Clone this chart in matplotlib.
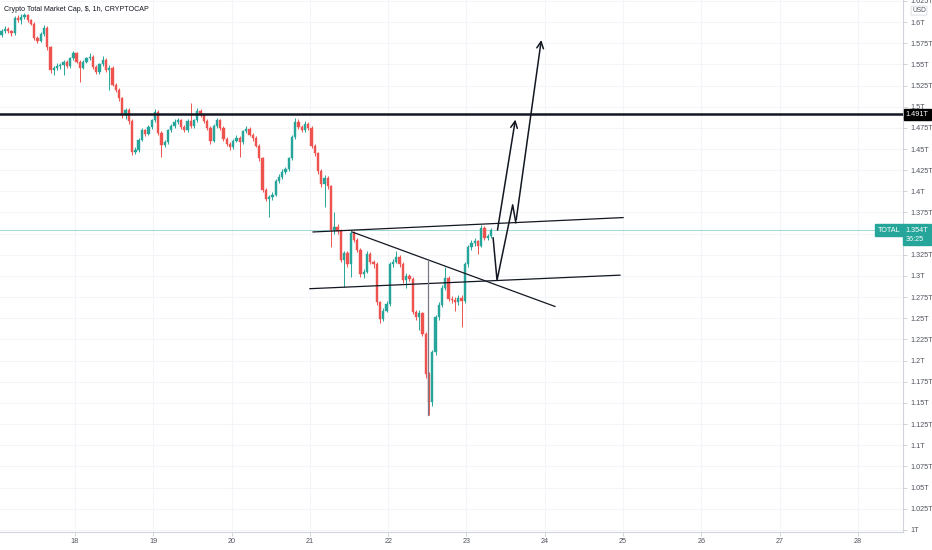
import numpy as np
import matplotlib.pyplot as plt
from matplotlib.patches import Rectangle

plt.rcParams['font.family'] = ['Liberation Sans', 'DejaVu Sans']

# hourly candles, Crypto Total Market Cap (in trillions USD)
first_open = 1.585
closes = [
    1.589, 1.592, 1.589, 1.587, 1.605, 1.602, 1.606, 1.608, 1.602, 1.598,
    1.581, 1.578, 1.586, 1.593, 1.570, 1.543, 1.546, 1.548, 1.549, 1.553,
    1.548, 1.557, 1.563, 1.553, 1.546, 1.553, 1.557, 1.559, 1.547, 1.541,
    1.550, 1.555, 1.543, 1.546, 1.526, 1.520, 1.510, 1.490, 1.496, 1.483,
    1.447, 1.449, 1.461, 1.472, 1.468, 1.476, 1.484, 1.494, 1.469, 1.455,
    1.458, 1.472, 1.477, 1.482, 1.484, 1.476, 1.472, 1.483, 1.477, 1.484,
    1.495, 1.490, 1.483, 1.475, 1.460, 1.477, 1.484, 1.475, 1.462, 1.456,
    1.452, 1.460, 1.463, 1.458, 1.471, 1.474, 1.467, 1.463, 1.454, 1.439,
    1.402, 1.391, 1.393, 1.396, 1.412, 1.417, 1.423, 1.426, 1.439, 1.464,
    1.482, 1.476, 1.472, 1.480, 1.475, 1.454, 1.445, 1.424, 1.409, 1.416,
    1.406, 1.354, 1.358, 1.353, 1.319, 1.327, 1.314, 1.351, 1.343, 1.331,
    1.302, 1.305, 1.326, 1.317, 1.314, 1.269, 1.249, 1.259, 1.267, 1.314,
    1.317, 1.323, 1.314, 1.295, 1.300, 1.297, 1.258, 1.252, 1.256, 1.232,
    1.184, 1.151, 1.210, 1.251, 1.266, 1.286, 1.298, 1.273, 1.272, 1.269,
    1.274, 1.271, 1.314, 1.334, 1.339, 1.341, 1.336, 1.357, 1.345, 1.347,
    1.354,
]
highs = [
    1.592, 1.595, 1.594, 1.591, 1.607, 1.608, 1.609, 1.611, 1.610, 1.604,
    1.600, 1.583, 1.588, 1.596, 1.595, 1.572, 1.548, 1.551, 1.552, 1.555,
    1.555, 1.559, 1.566, 1.565, 1.555, 1.555, 1.559, 1.563, 1.561, 1.549,
    1.552, 1.560, 1.557, 1.549, 1.548, 1.528, 1.522, 1.512, 1.499, 1.498,
    1.485, 1.452, 1.463, 1.475, 1.474, 1.478, 1.486, 1.497, 1.496, 1.471,
    1.461, 1.474, 1.480, 1.485, 1.487, 1.486, 1.478, 1.485, 1.504, 1.486,
    1.498, 1.497, 1.492, 1.485, 1.477, 1.479, 1.487, 1.486, 1.477, 1.464,
    1.458, 1.462, 1.466, 1.465, 1.473, 1.477, 1.476, 1.469, 1.465, 1.456,
    1.441, 1.404, 1.396, 1.399, 1.414, 1.420, 1.426, 1.429, 1.441, 1.466,
    1.487, 1.486, 1.478, 1.483, 1.482, 1.477, 1.456, 1.447, 1.426, 1.419,
    1.418, 1.408, 1.376, 1.361, 1.355, 1.330, 1.329, 1.354, 1.353, 1.345,
    1.333, 1.308, 1.330, 1.328, 1.319, 1.316, 1.271, 1.262, 1.270, 1.317,
    1.320, 1.330, 1.325, 1.316, 1.303, 1.302, 1.299, 1.260, 1.260, 1.258,
    1.234, 1.187, 1.213, 1.254, 1.269, 1.289, 1.311, 1.300, 1.276, 1.275,
    1.277, 1.277, 1.317, 1.337, 1.342, 1.345, 1.343, 1.360, 1.359, 1.350,
    1.357,
]
lows = [
    1.582, 1.587, 1.587, 1.584, 1.585, 1.600, 1.598, 1.603, 1.600, 1.596,
    1.579, 1.575, 1.576, 1.584, 1.567, 1.540, 1.537, 1.543, 1.545, 1.538,
    1.546, 1.546, 1.555, 1.551, 1.529, 1.544, 1.551, 1.555, 1.545, 1.539,
    1.539, 1.548, 1.541, 1.520, 1.524, 1.517, 1.507, 1.487, 1.485, 1.480,
    1.443, 1.444, 1.447, 1.459, 1.465, 1.466, 1.474, 1.482, 1.466, 1.441,
    1.452, 1.456, 1.470, 1.475, 1.480, 1.474, 1.470, 1.470, 1.475, 1.475,
    1.482, 1.488, 1.481, 1.472, 1.456, 1.458, 1.475, 1.473, 1.459, 1.453,
    1.449, 1.450, 1.458, 1.441, 1.456, 1.469, 1.465, 1.460, 1.452, 1.436,
    1.399, 1.388, 1.370, 1.390, 1.394, 1.410, 1.414, 1.421, 1.424, 1.437,
    1.462, 1.474, 1.470, 1.470, 1.473, 1.451, 1.442, 1.421, 1.405, 1.382,
    1.403, 1.334, 1.350, 1.350, 1.316, 1.287, 1.311, 1.299, 1.340, 1.328,
    1.299, 1.298, 1.303, 1.314, 1.310, 1.266, 1.245, 1.247, 1.257, 1.265,
    1.311, 1.315, 1.311, 1.292, 1.286, 1.294, 1.255, 1.248, 1.236, 1.229,
    1.180, 1.136, 1.146, 1.207, 1.248, 1.263, 1.284, 1.270, 1.268, 1.259,
    1.266, 1.240, 1.268, 1.311, 1.331, 1.336, 1.326, 1.334, 1.342, 1.342,
    1.345,
]
opens = [first_open] + closes[:-1]

day_ticks = list(range(18, 29))
price_ticks = [1.0, 1.025, 1.05, 1.075, 1.1, 1.125, 1.15, 1.175, 1.2, 1.225,
               1.25, 1.275, 1.3, 1.325, 1.35, 1.375, 1.4, 1.425, 1.45, 1.475,
               1.5, 1.525, 1.55, 1.575, 1.6, 1.625]
resistance = 1.491
last_price = 1.354

# drawings (day, price)
upper_line = ([21.04, 25.0], [1.352, 1.369])
lower_line = ([21.0, 24.96], [1.285, 1.301])
down_line = ([21.54, 24.13], [1.352, 1.264])
measure_line = ([22.51, 22.51], [1.319, 1.136])
arrow_short = ([23.39, 23.63], [1.351, 1.488])
zigzag = ([23.34, 23.39, 23.59, 23.63, 23.96], [1.345, 1.295, 1.384, 1.363, 1.582])

UP = '#26a69a'
DOWN = '#ef5350'
INK = '#131722'
TXT = '#50535e'
FS = 5.2

fig = plt.figure(figsize=(9.32, 5.5), dpi=100)
ax = fig.add_axes([0, 18 / 550, 903 / 932, 532 / 550])

t = 17 + (np.arange(len(closes)) + 1.5) / 24
bw = 0.7 / 24
for x, o, h, l, c in zip(t, opens, highs, lows, closes):
    col = UP if c >= o else DOWN
    ax.vlines(x, l, h, color=col, lw=0.7, zorder=3)
    ax.add_patch(Rectangle((x - bw / 2, min(o, c)), bw, max(abs(c - o), 0.0008),
                           facecolor=col, edgecolor=col, lw=0.3, zorder=4))

ax.axhline(resistance, color=INK, lw=1.8, zorder=5)
ax.axhline(last_price, color=UP, lw=0.6, alpha=0.5, zorder=2)

for xs, ys in (upper_line, lower_line, down_line):
    ax.plot(xs, ys, color=INK, lw=0.9, zorder=5)
ax.plot(*measure_line, color='#787b86', lw=0.9, zorder=5)

ax.annotate('', xy=(arrow_short[0][1], arrow_short[1][1]),
            xytext=(arrow_short[0][0], arrow_short[1][0]),
            arrowprops=dict(arrowstyle='->', color=INK, lw=1.1, mutation_scale=12),
            zorder=6)
ax.plot(zigzag[0][:-1], zigzag[1][:-1], color=INK, lw=1.1, zorder=6)
ax.annotate('', xy=(zigzag[0][-1], zigzag[1][-1]),
            xytext=(zigzag[0][-2], zigzag[1][-2]),
            arrowprops=dict(arrowstyle='->', color=INK, lw=1.1, mutation_scale=12),
            zorder=6)

ax.set_xlim(17.042, 28.575)
ax.set_ylim(0.9976, 1.626)

ax.set_xticks(day_ticks)
ax.set_xticklabels([str(d) for d in day_ticks])
ax.set_yticks(price_ticks)
# the 1.35T label sits under the live price tag
ax.set_yticklabels(['' if p == 1.35 else ('%g' % p) + 'T' for p in price_ticks])
ax.yaxis.tick_right()
ax.tick_params(axis='y', length=3, width=0.6, color='#c9ccd3', labelsize=FS,
               labelcolor=TXT, pad=2)
ax.tick_params(axis='x', length=3, width=0.6, color='#c9ccd3', labelsize=FS,
               labelcolor=TXT, pad=1)
ax.grid(True, color='#f4f5f8', lw=0.8, zorder=0)
for s in ('top', 'left'):
    ax.spines[s].set_visible(False)
ax.spines['right'].set_color('#d1d4dc')
ax.spines['bottom'].set_color('#d1d4dc')

ax.text(0.004, 0.988, 'Crypto Total Market Cap, $, 1h, CRYPTOCAP',
        transform=ax.transAxes, fontsize=5.1, color=INK, va='top', ha='left', zorder=7)

# right axis labels
ax.text(1.003, resistance, '1.491T', transform=ax.get_yaxis_transform(),
        fontsize=FS, color='white', va='center', ha='left', zorder=8, clip_on=False,
        bbox=dict(boxstyle='square,pad=0.3', fc='black', ec='black'))
ax.text(1.003, last_price - 0.005, '1.354T\n36:25', transform=ax.get_yaxis_transform(),
        fontsize=FS, color='white', va='center', ha='left', zorder=8, clip_on=False,
        linespacing=1.4,
        bbox=dict(boxstyle='square,pad=0.35', fc=UP, ec=UP))
ax.text(0.997, last_price, 'TOTAL', transform=ax.get_yaxis_transform(),
        fontsize=FS, color='white', va='center', ha='right', zorder=8,
        bbox=dict(boxstyle='square,pad=0.35', fc=UP, ec=UP))
ax.text(1.01, 1.6135, 'USD', transform=ax.get_yaxis_transform(),
        fontsize=4.8, color=TXT, va='center', ha='left', zorder=8, clip_on=False,
        bbox=dict(boxstyle='round,pad=0.15', fc='white', ec='#d1d4dc', lw=0.5))

fig.savefig('out.png', dpi=100, facecolor='white')
